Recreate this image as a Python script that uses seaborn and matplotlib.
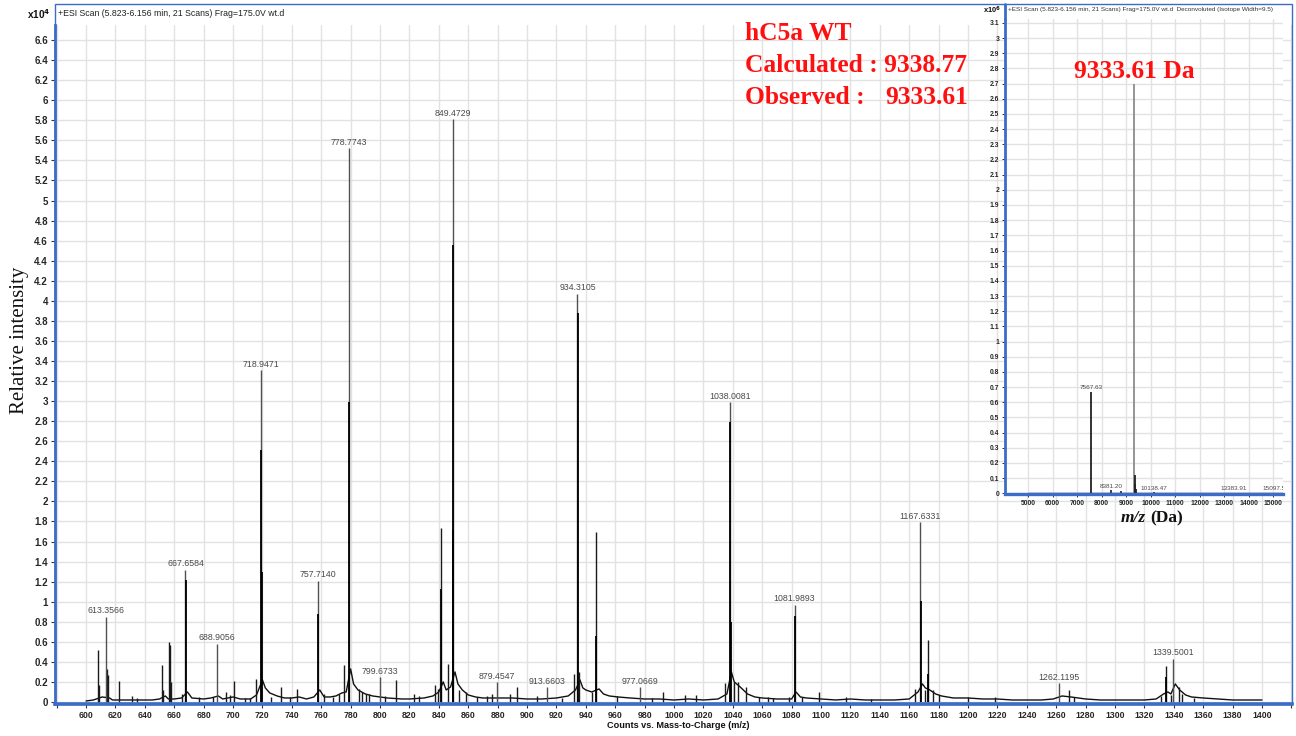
import matplotlib
matplotlib.use("Agg")
import matplotlib.pyplot as plt
import numpy as np
import pandas as pd
import seaborn as sns
from matplotlib.patches import Rectangle
from matplotlib.lines import Line2D
from matplotlib.ticker import MultipleLocator, FuncFormatter

# ---------------- ESI spectrum (counts x10^4 vs m/z) ----------------
# baseline of the profile trace, including the tails after the big peaks
baseline_mz = [600, 605, 607, 611, 616, 618, 625, 630, 640, 645, 650, 654, 656, 660,
               665, 669, 672, 680, 685, 690, 693, 700, 705, 712, 716, 720, 722, 725,
               730, 735, 740, 745, 750, 755, 759, 762, 766, 770, 774, 777, 780, 782,
               785, 790, 795, 800, 805, 815, 820, 830, 836, 840, 843, 845, 848, 851,
               853, 856, 860, 865, 870, 880, 890, 900, 910, 920, 928, 933, 936, 938,
               940, 944, 949, 952, 956, 962, 970, 980, 990, 1000, 1010, 1020, 1030,
               1036, 1039, 1041, 1045, 1050, 1055, 1060, 1070, 1080, 1083, 1086, 1090,
               1100, 1110, 1120, 1130, 1140, 1150, 1160, 1166, 1169, 1171, 1174, 1178,
               1182, 1190, 1200, 1210, 1220, 1230, 1240, 1250, 1258, 1264, 1270, 1275,
               1280, 1290, 1300, 1310, 1320, 1328, 1333, 1336, 1338, 1341, 1344, 1348,
               1352, 1360, 1370, 1380, 1390, 1400]
baseline_int = [0.01, 0.02, 0.03, 0.05, 0.04, 0.02, 0.02, 0.02, 0.02, 0.02, 0.03, 0.06, 0.03, 0.03,
                0.04, 0.10, 0.04, 0.03, 0.04, 0.06, 0.03, 0.05, 0.03, 0.03, 0.07, 0.22, 0.14, 0.09,
                0.06, 0.04, 0.04, 0.05, 0.03, 0.05, 0.12, 0.05, 0.05, 0.06, 0.09, 0.10, 0.33, 0.18,
                0.12, 0.08, 0.06, 0.05, 0.04, 0.03, 0.03, 0.04, 0.06, 0.10, 0.20, 0.12, 0.15, 0.30,
                0.18, 0.12, 0.07, 0.05, 0.04, 0.04, 0.04, 0.03, 0.03, 0.04, 0.06, 0.12, 0.22, 0.14,
                0.12, 0.10, 0.13, 0.08, 0.06, 0.05, 0.04, 0.03, 0.03, 0.02, 0.03, 0.02, 0.03,
                0.08, 0.30, 0.20, 0.15, 0.08, 0.05, 0.04, 0.03, 0.03, 0.10, 0.05, 0.04,
                0.03, 0.02, 0.03, 0.02, 0.02, 0.02, 0.03, 0.10, 0.18, 0.14, 0.12, 0.08,
                0.06, 0.04, 0.04, 0.03, 0.03, 0.02, 0.02, 0.02, 0.03, 0.06, 0.05, 0.04,
                0.03, 0.02, 0.02, 0.02, 0.02, 0.03, 0.08, 0.10, 0.08, 0.18, 0.12, 0.07,
                0.05, 0.04, 0.03, 0.02, 0.02, 0.02]

# unlabelled spikes (apex heights)
peak_mz = [608.0, 609.0, 614.2, 614.7, 622.6, 631.0, 634.8, 651.4, 652.5, 656.6, 657.1, 657.8,
           665.0, 676.7, 686.4, 695.5, 697.7, 700.7, 707.9, 711.3, 715.8, 726.0, 732.4,
           738.5, 743.7, 762.0, 767.9, 772.4, 775.3, 786.0, 788.0, 790.5, 792.8, 803.6,
           810.9, 823.3, 826.7, 837.6, 839.6, 841.5, 846.5, 853.4, 858.4, 865.9, 872.7,
           876.1, 888.6, 893.2, 906.8, 923.8, 931.7, 935.6, 944.3, 946.9, 961.3, 985.0,
           992.3, 1007.7, 1015.2, 1034.9, 1041.0, 1043.3, 1049.0, 1057.6, 1063.7, 1067.4,
           1078.1, 1087.3, 1098.6, 1116.7, 1133.7, 1164.2, 1170.7, 1172.9, 1175.9, 1180.4,
           1199.7, 1218.5, 1268.8, 1272.2, 1331.0, 1334.4, 1337.8, 1343.5, 1345.7, 1353.7]
peak_int = [0.52, 0.17, 0.33, 0.27, 0.21, 0.06, 0.04, 0.37, 0.12, 0.60, 0.57, 0.20,
            0.08, 0.05, 0.05, 0.10, 0.07, 0.21, 0.04, 0.04, 0.23, 0.05, 0.15,
            0.05, 0.13, 0.08, 0.05, 0.08, 0.37, 0.13, 0.10, 0.08, 0.08, 0.06,
            0.22, 0.08, 0.06, 0.17, 0.13, 1.73, 0.38, 0.12, 0.10, 0.05, 0.06,
            0.08, 0.08, 0.15, 0.06, 0.04, 0.28, 0.30, 0.10, 1.69, 0.06, 0.04,
            0.10, 0.07, 0.07, 0.19, 0.20, 0.20, 0.15, 0.05, 0.05, 0.04,
            0.05, 0.05, 0.10, 0.05, 0.03, 0.13, 0.12, 0.62, 0.12, 0.07,
            0.05, 0.05, 0.12, 0.05, 0.06, 0.36, 0.07, 0.15, 0.08, 0.04]

# labelled peaks
label_mz = [613.3566, 667.6584, 688.9056, 718.9471, 757.7140, 778.7743, 799.6733, 849.4729,
            879.4547, 913.6603, 934.3105, 977.0669, 1038.0081, 1081.9893, 1167.6331,
            1262.1195, 1339.5001]
label_int = [0.85, 1.32, 0.58, 3.31, 1.21, 5.52, 0.25, 5.81, 0.20, 0.15, 4.07, 0.15, 2.99,
             0.97, 1.79, 0.19, 0.43]

# neighbouring profile samples that form the dark core of the tall peaks
core_mz = [668.0, 719.2, 719.5, 758.0, 779.0, 841.7, 849.7, 849.9, 934.5, 947.2, 1038.2,
           1038.5, 1082.2, 1167.9, 1173.1, 1334.6]
core_int = [1.22, 2.51, 1.30, 0.88, 2.99, 1.13, 4.56, 1.71, 3.88, 0.66, 2.79,
            0.80, 0.86, 1.01, 0.28, 0.25]

# ---------------- deconvoluted spectrum (counts x10^6 vs mass) ----------------
decon_base_mass = [5000, 6000, 7000, 8000, 9000, 10000, 11000, 12000, 13000, 14000, 15000, 15400]
decon_base_int = [0.003, 0.003, 0.003, 0.003, 0.003, 0.003, 0.003, 0.003, 0.003, 0.003, 0.003, 0.003]
decon_mass = [7567.63, 8381.20, 8812.0, 9333.61, 9352.0, 9371.0, 9390.0, 10138.47, 13383.91, 15097.58]
decon_int = [0.67, 0.02, 0.015, 2.70, 0.12, 0.06, 0.03, 0.006, 0.004, 0.004]
decon_label_mass = [7567.63, 8381.20, 10138.47, 13383.91, 15097.58]
decon_label_int = [0.67, 0.02, 0.006, 0.004, 0.004]

W, H = 1296, 736
sns.set_theme(style="white")
NARROW = ["Liberation Sans Narrow", "Liberation Sans", "DejaVu Sans"]
SERIF = ["Liberation Serif", "DejaVu Serif"]
plt.rcParams["font.family"] = NARROW

BLUE = "#3b6cc9"
GRID = "#e2e2e2"
RED = "#ff1010"
LABEL_GREY = "#4a4a4a"

fig = plt.figure(figsize=(W / 100, H / 100), dpi=100)
fig.patch.set_facecolor("white")


def rect(l, t, r, b):
    return [l / W, 1 - b / H, (r - l) / W, (b - t) / H]


def fx(x):
    return x / W


def fy(y):
    return 1 - y / H


# ---------------- main spectrum ----------------
ax = fig.add_axes(rect(55, 25, 1292, 704))
ax.set_xlim(578.9, 1420.4)
ax.set_ylim(-0.02, 6.75)
ax.xaxis.set_major_locator(MultipleLocator(20))
ax.yaxis.set_major_locator(MultipleLocator(0.2))
ax.yaxis.set_major_formatter(FuncFormatter(lambda v, p: f"{v:g}" if v >= -1e-9 else ""))
ax.xaxis.set_major_formatter(FuncFormatter(lambda v, p: f"{v:g}" if 599 < v < 1401 else ""))
ax.grid(True, color=GRID, lw=1.0)
ax.set_axisbelow(True)

base_df = pd.DataFrame({"mz": baseline_mz, "intensity": baseline_int})
sns.lineplot(data=base_df, x="mz", y="intensity", ax=ax, color="#111111", lw=1.0)
ax.vlines(peak_mz, 0, peak_int, colors="#1a1a1a", lw=1.0)
ax.vlines(label_mz, 0, label_int, colors="#505050", lw=1.0)
ax.vlines(core_mz, 0, core_int, colors="#000000", lw=1.3)
for m, v in zip(label_mz, label_int):
    ax.annotate(f"{m:.4f}", (m, v), xytext=(0, 1.0), textcoords="offset points",
                ha="center", va="bottom", fontsize=6.3, color=LABEL_GREY)

ax.set_xlabel("")
ax.set_ylabel("")
for s in ["top", "right"]:
    ax.spines[s].set_visible(False)
ax.spines["left"].set_color(BLUE)
ax.spines["left"].set_linewidth(2.0)
ax.spines["bottom"].set_color(BLUE)
ax.spines["bottom"].set_linewidth(2.6)
ax.tick_params(axis="both", which="major", length=3, width=0.8, color="#333333",
               pad=2, left=True, bottom=True)
ax.tick_params(axis="x", labelsize=6.3)
ax.tick_params(axis="y", labelsize=7.0)
for lab in ax.get_xticklabels() + ax.get_yticklabels():
    lab.set_fontweight("bold")

# outer frame of the scan window
fig.patches.append(Rectangle((fx(55), fy(704)), (1292 - 55) / W, (704 - 4) / H,
                             transform=fig.transFigure, fill=False, ec=BLUE, lw=1.0))

fig.text(fx(58), fy(14), "+ESI Scan (5.823-6.156 min, 21 Scans) Frag=175.0V wt.d",
         ha="left", va="center", fontsize=6.3, color="#222222")
fig.text(fx(50), fy(14), r"x10$^{\mathbf{4}}$", ha="right", va="center", fontsize=7.2,
         fontweight="bold", color="#111111")
fig.text(fx(678), fy(726), "Counts vs. Mass-to-Charge (m/z)", ha="center", va="center",
         fontsize=6.6, fontweight="bold", color="#111111")
fig.text(fx(20), fy(340), "Relative intensity", rotation=90, ha="center", va="center",
         fontsize=15, family=SERIF, color="#111111")

fig.text(fx(745), fy(33), "hC5a WT", ha="left", va="center", fontsize=18.4,
         fontweight="bold", family=SERIF, color=RED)
fig.text(fx(745), fy(65), "Calculated : 9338.77", ha="left", va="center", fontsize=18.4,
         fontweight="bold", family=SERIF, color=RED)
fig.text(fx(745), fy(97), "Observed :", ha="left", va="center", fontsize=18.4,
         fontweight="bold", family=SERIF, color=RED)
fig.text(fx(968), fy(97), "9333.61", ha="right", va="center", fontsize=18.4,
         fontweight="bold", family=SERIF, color=RED)

# ---------------- inset: deconvoluted mass ----------------
ins = fig.add_axes(rect(1005, 19, 1283, 494))
ins.set_facecolor("white")
ins.set_xlim(4061, 15408)
ins.set_ylim(-0.005, 3.126)
ins.xaxis.set_major_locator(MultipleLocator(1000))
ins.yaxis.set_major_locator(MultipleLocator(0.1))
ins.yaxis.set_major_formatter(FuncFormatter(lambda v, p: f"{v:.1f}".rstrip("0").rstrip(".") if v >= -1e-9 else ""))
ins.xaxis.set_major_formatter(FuncFormatter(lambda v, p: f"{v:.0f}" if v >= 4999 else ""))
ins.grid(True, color=GRID, lw=1.0)
ins.set_axisbelow(True)

dbase = pd.DataFrame({"mass": decon_base_mass, "intensity": decon_base_int})
sns.lineplot(data=dbase, x="mass", y="intensity", ax=ins, color="#222222", lw=1.0)
ins.vlines(decon_mass, 0, decon_int, colors=["#222222", "#333333", "#333333", "#8c8c8c",
                                             "#222222", "#222222", "#222222", "#333333",
                                             "#333333", "#333333"], lw=1.3)
for m, v in zip(decon_label_mass, decon_label_int):
    ins.annotate(f"{m:.2f}", (m, v), xytext=(0, 1.0), textcoords="offset points",
                 ha="center", va="bottom", fontsize=4.6, color=LABEL_GREY,
                 annotation_clip=False, clip_on=True)
ins.annotate("9333.61 Da", (decon_mass[3], decon_int[3]), xytext=(0, 0.5),
             textcoords="offset points", ha="center", va="bottom", fontsize=18.4,
             fontweight="bold", family=SERIF, color=RED)

ins.set_xlabel("")
ins.set_ylabel("")
for s in ["top", "right"]:
    ins.spines[s].set_visible(False)
ins.spines["left"].set_color(BLUE)
ins.spines["left"].set_linewidth(2.0)
ins.spines["bottom"].set_color(BLUE)
ins.spines["bottom"].set_linewidth(2.4)
ins.tick_params(axis="both", which="major", length=2.5, width=0.7, color="#333333",
                labelsize=4.9, pad=1.5, left=True, bottom=True)
for lab in ins.get_xticklabels() + ins.get_yticklabels():
    lab.set_fontweight("bold")

# inset window: left border reaches the top of the frame, header area is white
fig.patches.append(Rectangle((fx(1005), fy(19)), (1283 - 1005) / W, (19 - 5) / H,
                             transform=fig.transFigure, fc="white", ec="none", zorder=0.5))
fig.lines.append(Line2D([fx(1005), fx(1005)], [fy(4), fy(19)], transform=fig.transFigure,
                        color=BLUE, lw=2.0))
fig.text(fx(1008), fy(10), "+ESI Scan (5.823-6.156 min, 21 Scans) Frag=175.0V wt.d  "
         "Deconvoluted (Isotope Width=9.5)", ha="left", va="center", fontsize=4.6,
         color="#333333")
fig.text(fx(1001), fy(10), r"x10$^{\mathbf{6}}$", ha="right", va="center", fontsize=5.4,
         fontweight="bold", color="#111111")
fig.text(fx(1146), fy(518), "m/z", ha="right", va="center", fontsize=12.5,
         fontweight="bold", style="italic", family=SERIF, color="#111111")
fig.text(fx(1150), fy(518), "(Da)", ha="left", va="center", fontsize=12.5,
         fontweight="bold", family=SERIF, color="#111111")

fig.savefig("out.png", dpi=100, facecolor="white")
